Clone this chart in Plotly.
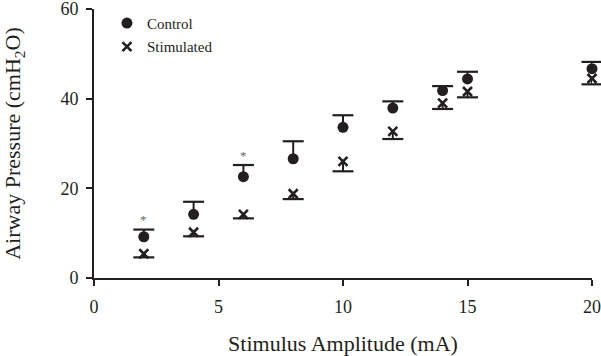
import plotly.graph_objects as go

amplitude = [2, 4, 6, 8, 10, 12, 14, 15, 20]
control = [9.2, 14.2, 22.6, 26.6, 33.6, 37.9, 41.8, 44.4, 46.7]
control_err = [1.6, 2.8, 2.6, 3.9, 2.7, 1.5, 1.0, 1.6, 1.5]
stimulated = [5.4, 10.2, 14.2, 18.8, 26.0, 32.7, 39.0, 41.6, 44.5]
stimulated_err = [0.8, 0.9, 0.9, 1.2, 2.2, 1.7, 1.3, 1.3, 1.3]
star_amplitudes = [2, 6]

FONT = "Liberation Serif"
INK = "#231f20"

fig = go.Figure()

# Control: upward error bars
fig.add_trace(go.Scatter(
    x=amplitude, y=control, mode="markers", name="Control",
    marker=dict(symbol="circle", size=11, color=INK),
    error_y=dict(type="data", symmetric=False, array=control_err,
                 arrayminus=[0] * len(control), width=0, thickness=2, color=INK),
    cliponaxis=False, legendgroup="c",
))
fig.add_trace(go.Scatter(
    x=amplitude, y=[v + e for v, e in zip(control, control_err)], mode="markers",
    marker=dict(symbol="line-ew", size=15, line=dict(width=2.2, color=INK)),
    showlegend=False, hoverinfo="skip", cliponaxis=False,
))

# Stimulated: downward error bars
fig.add_trace(go.Scatter(
    x=amplitude, y=stimulated, mode="markers", name="Stimulated",
    marker=dict(symbol="x-thin", size=9, line=dict(width=2.6, color=INK), color=INK),
    error_y=dict(type="data", symmetric=False, array=[0] * len(stimulated),
                 arrayminus=stimulated_err, width=0, thickness=2, color=INK),
    cliponaxis=False, legendgroup="s",
))
fig.add_trace(go.Scatter(
    x=amplitude, y=[v - e for v, e in zip(stimulated, stimulated_err)], mode="markers",
    marker=dict(symbol="line-ew", size=15, line=dict(width=2.2, color=INK)),
    showlegend=False, hoverinfo="skip", cliponaxis=False,
))

# significance stars
for a in star_amplitudes:
    i = amplitude.index(a)
    fig.add_annotation(x=a, y=control[i] + control_err[i], text="*", showarrow=False,
                       yshift=10, font=dict(family=FONT, size=13, color="#666"))

fig.update_layout(
    width=601, height=356,
    margin=dict(l=94, r=9, t=7, b=78),
    paper_bgcolor="white", plot_bgcolor="white",
    font=dict(family=FONT, color=INK),
    showlegend=True,
    legend=dict(x=0.026, y=1.008, xanchor="left", yanchor="top",
                font=dict(family=FONT, size=15, color=INK),
                bgcolor="rgba(0,0,0,0)", tracegroupgap=1),
    xaxis=dict(range=[0, 20], tickvals=[0, 5, 10, 15, 20], showgrid=False, zeroline=False,
               showline=True, linewidth=2, linecolor=INK, ticks="outside", ticklen=6,
               tickwidth=2, tickcolor=INK, tickfont=dict(family=FONT, size=18, color=INK),
               ticklabelstandoff=5, automargin=False, ticklabeloverflow="allow",
               title=dict(text="Stimulus Amplitude (mA)", font=dict(family=FONT, size=22, color=INK),
                          standoff=20)),
    yaxis=dict(range=[0, 60], tickvals=[0, 20, 40, 60], showgrid=False, zeroline=False,
               showline=True, linewidth=2, linecolor=INK, ticks="outside", ticklen=6,
               tickwidth=2, tickcolor=INK, tickfont=dict(family=FONT, size=18, color=INK),
               ticklabelstandoff=4, automargin=False, ticklabeloverflow="allow",
               title=dict(text="Airway Pressure (cmH<sub>2</sub>O)",
                          font=dict(family=FONT, size=22, color=INK), standoff=35)),
)

fig.write_html("out.html", config={"displayModeBar": False},
               post_script="document.body.style.margin='0';")
